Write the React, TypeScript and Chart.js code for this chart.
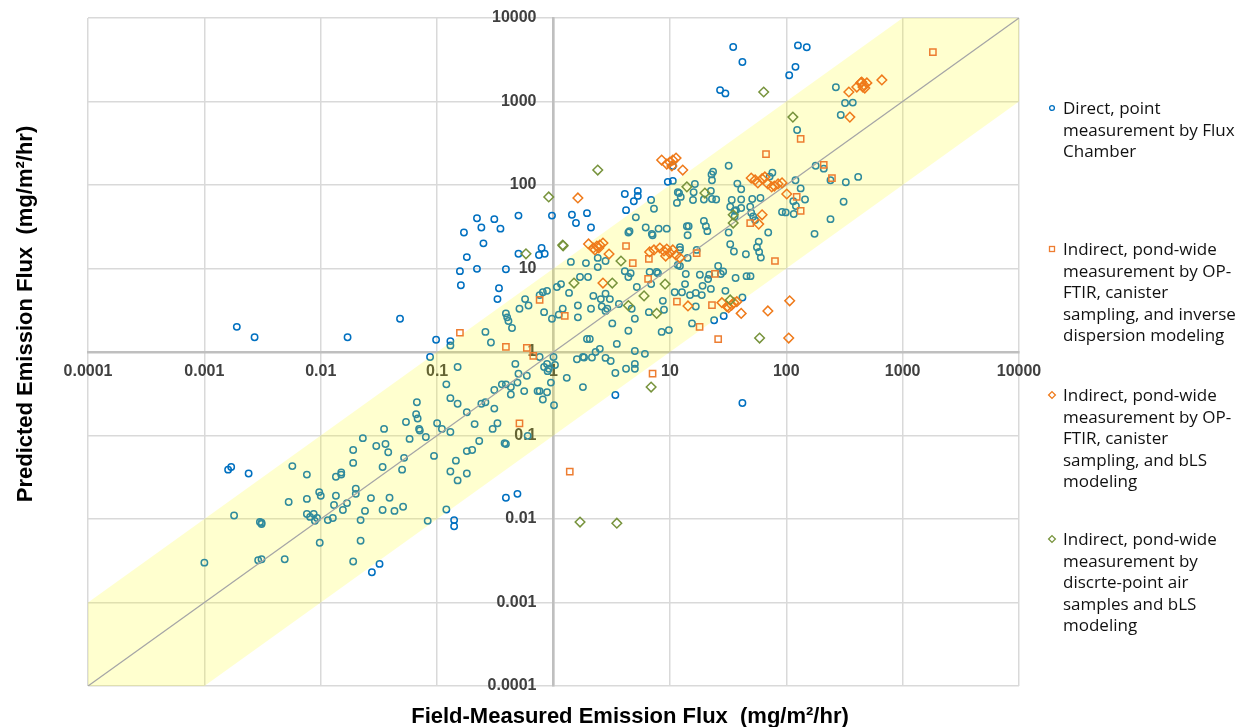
import React, { useEffect, useRef } from 'react';
import { Chart, registerables } from 'chart.js';

Chart.register(...registerables);

// ---------- axis ticks / titles ----------
const tickValues = [0.0001, 0.001, 0.01, 0.1, 1, 10, 100, 1000, 10000];
const tickLabels = ['0.0001', '0.001', '0.01', '0.1', '1', '10', '100', '1000', '10000'];
const xTitle = 'Field-Measured Emission Flux  (mg/m\u00B2/hr)';
const yTitle = 'Predicted Emission Flux  (mg/m\u00B2/hr)';

// ---------- legend text ----------
const seriesNames: string[][] = [
  ['Direct, point', 'measurement by Flux', 'Chamber'],
  ['Indirect, pond-wide', 'measurement by OP-', 'FTIR, canister', 'sampling, and inverse', 'dispersion modeling'],
  ['Indirect, pond-wide', 'measurement by OP-', 'FTIR, canister', 'sampling, and bLS', 'modeling'],
  ['Indirect, pond-wide', 'measurement by', 'discrte-point air', 'samples and bLS', 'modeling'],
];

// ---------- series: [field-measured, predicted] ----------
const directFluxChamber: [number, number][] = [
  [0.0019, 2.0], [0.0027, 1.5], [0.017, 1.5], [0.048, 2.5], [0.087, 0.87], [0.15, 0.66], [0.47, 0.72], [0.50, 0.55],
  [0.59, 0.52], [0.36, 0.41], [0.39, 0.41], [0.43, 0.38], [0.49, 0.43], [0.43, 0.31], [0.56, 0.34], [0.31, 0.35],
  [0.73, 0.34], [0.12, 0.41], [0.13, 0.28], [0.15, 0.24], [0.067, 0.25], [0.066, 0.18], [0.068, 0.16], [0.054, 0.145],
  [0.070, 0.12], [0.071, 0.115], [0.10, 0.14], [0.11, 0.12], [0.13, 0.11], [0.18, 0.19], [0.24, 0.24], [0.26, 0.25],
  [0.31, 0.21], [0.33, 0.14], [0.21, 0.137], [0.30, 0.12], [0.080, 0.096], [0.058, 0.091], [0.035, 0.12], [0.023, 0.093],
  [0.030, 0.075], [0.036, 0.079], [0.038, 0.063], [0.019, 0.067], [0.019, 0.047], [0.052, 0.054], [0.034, 0.042], [0.050, 0.039],
  [0.094, 0.057], [0.145, 0.050], [0.18, 0.065], [0.20, 0.067], [0.23, 0.086], [0.38, 0.081], [0.39, 0.079], [0.60, 0.099],
  [0.13, 0.037], [0.15, 0.029], [0.18, 0.035], [0.39, 0.018], [0.49, 0.020], [0.12, 0.013], [0.083, 0.0095], [0.14, 0.0097],
  [0.14, 0.0082], [0.0057, 0.043], [0.0076, 0.034], [0.0135, 0.032], [0.015, 0.036], [0.015, 0.034], [0.020, 0.023], [0.020, 0.020],
  [0.0135, 0.019], [0.0097, 0.021], [0.010, 0.019], [0.0053, 0.016], [0.0076, 0.0174], [0.013, 0.0147], [0.0168, 0.0155], [0.0155, 0.0128],
  [0.0076, 0.0115], [0.0087, 0.0115], [0.0081, 0.0106], [0.0093, 0.0103], [0.0089, 0.0095], [0.0115, 0.0097], [0.0127, 0.0103], [0.024, 0.0125],
  [0.022, 0.0097], [0.027, 0.0178], [0.039, 0.018], [0.034, 0.0128], [0.043, 0.0125], [0.051, 0.014], [0.0098, 0.0052], [0.022, 0.0055],
  [0.0049, 0.0033], [0.0029, 0.0032], [0.0031, 0.0033], [0.0030, 0.0092], [0.0031, 0.0090], [0.0031, 0.0087], [0.0018, 0.011], [0.0016, 0.039],
  [0.0017, 0.042], [0.0024, 0.035], [0.0010, 0.0030], [0.019, 0.0031], [0.0275, 0.0023], [0.032, 0.0029], [0.098, 1.4], [0.13, 1.35],
  [0.13, 1.2], [0.29, 1.3], [10.6, 169], [9.6, 109], [10.6, 112], [4.1, 78], [4.9, 64], [5.3, 85],
  [5.3, 74], [6.9, 66], [7.3, 52], [4.2, 50], [5.1, 41], [11.7, 82], [12, 80], [12.4, 72],
  [11.5, 61], [16.4, 103], [16, 82], [15.8, 66], [1.44, 44], [1.56, 35], [1.94, 46], [2.1, 31],
  [0.97, 43], [0.50, 43], [0.31, 39], [0.22, 40], [0.24, 31], [0.35, 30], [0.17, 27], [0.25, 20],
  [0.18, 13.7], [0.22, 9.9], [0.39, 9.8], [0.157, 9.3], [0.16, 6.3], [0.34, 5.8], [0.33, 4.3], [0.50, 15],
  [0.75, 14.5], [0.79, 17.6], [0.84, 15], [4.4, 27], [4.5, 28], [7.0, 26], [7.1, 25], [6.2, 31],
  [8.0, 30], [9.4, 30], [14, 32], [14.5, 32], [14.2, 25], [12.2, 18], [12.2, 16.7], [14.2, 13.4],
  [17, 16.7], [11.7, 11], [12.2, 10.7], [4.1, 9.3], [4.4, 7.9], [4.6, 8.8], [6.7, 9.1], [7.7, 9.1],
  [7.9, 8.8], [6.9, 6.5], [5.2, 6.0], [4.7, 3.3], [6.6, 3.0], [8.7, 4.1], [8.9, 3.2], [11, 5.2],
  [12.7, 5.2], [2.4, 10.4], [1.9, 11.6], [1.41, 12], [2.8, 12.3], [2.4, 13.4], [1.69, 7.9], [1.98, 7.9],
  [1.07, 6.0], [1.16, 6.5], [1.36, 5.1], [0.76, 4.8], [0.81, 5.2], [0.88, 5.4], [0.57, 4.3], [0.61, 3.6],
  [1.62, 3.6], [2.2, 4.7], [2.8, 5.0], [2.55, 4.3], [3.05, 4.3], [3.65, 3.76], [2.6, 3.5], [2.8, 3.1],
  [2.9, 3.3], [2.1, 3.3], [3.2, 2.2], [4.4, 1.8], [1.62, 2.6], [1.2, 3.3], [1.11, 2.8], [0.97, 2.5],
  [0.83, 3.0], [0.51, 3.3], [0.39, 2.9], [0.40, 2.6], [0.41, 2.35], [0.26, 1.74], [0.44, 1.94], [8.5, 1.74],
  [9.8, 1.83], [1.94, 1.43], [2.05, 1.43], [5.0, 2.5], [13.5, 6.5], [14.9, 4.8], [16.7, 5.1], [16.7, 3.5],
  [15.5, 2.2], [13.7, 8.6], [0.76, 0.87], [0.83, 0.66], [0.88, 0.72], [0.91, 0.63], [0.89, 0.59], [1.03, 0.70],
  [1.0, 0.87], [0.95, 0.43], [1.01, 0.23], [0.76, 0.34], [0.88, 0.33], [0.81, 0.27], [1.3, 0.49], [1.79, 0.38],
  [1.59, 0.82], [1.79, 0.87], [1.83, 0.86], [2.14, 0.86], [2.3, 1.0], [2.5, 1.09], [2.8, 0.85], [3.1, 0.78],
  [3.4, 0.56], [4.2, 0.63], [5.0, 0.72], [5.0, 0.63], [5.0, 1.03], [6.1, 0.95], [3.5, 1.25], [3.4, 0.305],
  [42, 0.245], [35, 4500], [42, 2970], [27, 1370], [30, 1250], [106, 2060], [120, 2600], [126, 4700],
  [150, 4460], [267, 1480], [320, 960], [373, 970], [294, 690], [124, 456], [32, 170], [23.5, 144],
  [22.8, 134], [23, 114], [38, 104], [41, 89], [76, 140], [72, 126], [120, 114], [133, 91],
  [179, 170], [210, 157], [240, 114], [415, 125], [325, 108], [311, 63], [240, 39], [175, 26],
  [145, 67], [115, 64], [121, 56], [116, 45], [92, 47.5], [99, 47], [22.5, 85], [19.6, 67],
  [23, 68], [25, 67], [34, 66], [41, 67], [51, 68], [60, 70], [33, 55], [36, 49],
  [37, 50], [41, 53], [49, 55], [50, 46.6], [52, 42], [54, 38], [36, 42], [19.6, 37],
  [20.4, 32], [21, 28], [32, 27], [70, 27], [33, 19.5], [35.5, 16], [45, 14.8], [58, 21],
  [56, 18], [58.5, 15.8], [60.5, 13.5], [26, 10.7], [28.7, 9.2], [27.4, 8.6], [21.8, 8.4], [21.3, 7.5],
  [18.1, 8.4], [36.7, 7.7], [45.6, 8.1], [49.3, 8.1], [19.1, 6.2], [18.8, 4.8], [22.5, 5.7], [30, 5.4],
  [42, 4.5], [24, 2.4], [29, 2.7],
];

const opftirInverseDispersion: [number, number][] = [
  [0.157, 1.7], [0.39, 1.15], [0.59, 1.12], [0.67, 0.9], [0.51, 0.14], [1.38, 0.037], [7.1, 0.55], [0.76, 4.2],
  [1.25, 2.7], [4.2, 18.6], [4.8, 11.6], [6.6, 13], [6.5, 7.5], [17, 15.3], [11.5, 4.0], [210, 174],
  [247, 121], [123, 72], [133, 49], [133, 356], [67, 235], [49, 35], [80, 12.3], [24.4, 8.6],
  [23, 3.65], [18, 2.0], [26, 1.43], [1820, 3900],
];

const opftirBLS: [number, number][] = [
  [8.5, 199], [9.4, 178], [10, 188], [10.4, 169], [10.6, 199], [11.3, 210], [12.9, 151], [1.62, 70],
  [2.0, 19.7], [2.2, 17.6], [2.27, 16.7], [2.36, 18.6], [2.5, 19.1], [2.66, 20.2], [2.45, 17.6], [3.0, 14.9],
  [6.7, 15.8], [7.3, 16.7], [8.2, 17.6], [8.9, 16.2], [9.4, 17.1], [10, 15.3], [10.6, 16.7], [11.3, 14.5],
  [9.2, 14.1], [12.2, 13.4], [2.66, 6.7], [14.3, 3.56], [50, 121], [54, 115], [57, 106], [62, 119],
  [65.5, 125], [69.5, 103], [75, 95], [79, 97], [85, 103], [92, 106], [101, 78], [58, 34],
  [62, 44], [28, 3.9], [31, 3.5], [32, 3.4], [34, 3.65], [35.5, 3.9], [37.6, 4.0], [41, 2.9],
  [69.5, 3.1], [107, 4.1], [105, 1.47], [345, 1300], [352, 650], [404, 1490], [437, 1670], [445, 1710],
  [464, 1580], [493, 1670], [473, 1450], [456, 1490], [663, 1810],
];

const discretePointBLS: [number, number][] = [
  [2.4, 151], [0.91, 72], [1.2, 19.1], [1.21, 18.7], [0.58, 15], [3.8, 12.3], [3.2, 6.7], [1.5, 6.7],
  [6.0, 4.7], [4.4, 3.6], [7.7, 2.9], [9.1, 6.5], [14, 95], [20, 80], [35, 44], [35, 35],
  [33, 4.2], [59, 1.47], [6.9, 0.38], [1.69, 0.0092], [3.5, 0.0089], [64, 1300], [114, 650],
];

// ---------- factor-of-10 band and 1:1 line ----------
const bandUpper: [number, number][] = [[0.0001, 0.001], [1000, 10000], [10000, 10000]];
const bandLower: [number, number][] = [[0.0001, 0.0001], [0.001, 0.0001], [10000, 1000]];
const identityLine: [number, number][] = [[0.0001, 0.0001], [10000, 10000]];

const COLORS = ['#0070C0', '#ED7D31', '#EF7A1A', '#77933C'];
const MARKERS = ['circle', 'square', 'diamond', 'diamond'];
const LEGEND_CENTERS = [108, 249, 395, 539];

const toXY = (arr: [number, number][]) => arr.map(([x, y]) => ({ x, y }));

const axisTextPlugin = {
  id: 'axisText',
  beforeDatasetsDraw(chart: any) {
    const { ctx } = chart;
    const xs = chart.scales.x;
    const ys = chart.scales.y;
    const xAxisY = ys.getPixelForValue(1);
    const yAxisX = xs.getPixelForValue(1);
    ctx.save();
    ctx.font = 'bold 16px "Liberation Sans", Arial, sans-serif';
    ctx.fillStyle = '#404040';
    ctx.textBaseline = 'middle';
    ctx.textAlign = 'center';
    tickValues.forEach((v, i) => ctx.fillText(tickLabels[i], xs.getPixelForValue(v), xAxisY + 20));
    ctx.textAlign = 'right';
    tickValues.forEach((v, i) => ctx.fillText(tickLabels[i], yAxisX - 17, ys.getPixelForValue(v)));
    ctx.restore();
  },
  afterDraw(chart: any) {
    const { ctx } = chart;
    ctx.save();
    ctx.font = 'bold 22px "Liberation Sans", Arial, sans-serif';
    ctx.fillStyle = '#000000';
    ctx.textAlign = 'center';
    ctx.textBaseline = 'middle';
    ctx.fillText(xTitle, 630, 717);
    ctx.translate(26, 314);
    ctx.rotate(-Math.PI / 2);
    ctx.fillText(yTitle, 0, 0);
    ctx.restore();
  },
};

function LegendMarker({ kind, color, cy }: { kind: string; color: string; cy: number }) {
  return (
    <svg width="12" height="12" viewBox="0 0 12 12" style={{ position: 'absolute', left: 1046, top: cy - 6 }}>
      {kind === 'circle' && <circle cx="6" cy="6" r="2.4" fill="none" stroke={color} strokeWidth="1.3" />}
      {kind === 'square' && <rect x="3.5" y="3.5" width="5" height="5" fill="none" stroke={color} strokeWidth="1.3" />}
      {kind === 'diamond' && <polygon points="6,2.6 9.4,6 6,9.4 2.6,6" fill="none" stroke={color} strokeWidth="1.3" />}
    </svg>
  );
}

export default function App() {
  const ref = useRef<HTMLCanvasElement>(null);

  useEffect(() => {
    if (!ref.current) return;
    const pointSeries = (data: [number, number][], idx: number, style: string, radius: number, order: number) => ({
      label: seriesNames[idx].join(' '),
      data: toXY(data),
      pointStyle: style,
      pointRadius: radius,
      pointBorderWidth: 1.5,
      pointBorderColor: COLORS[idx],
      pointBackgroundColor: 'rgba(0,0,0,0)',
      borderColor: COLORS[idx],
      backgroundColor: 'rgba(0,0,0,0)',
      showLine: false,
      order,
    });

    const chart = new Chart(ref.current, {
      type: 'scatter',
      data: {
        datasets: [
          {
            label: 'band upper',
            type: 'line',
            data: toXY(bandUpper),
            borderColor: 'rgba(0,0,0,0)',
            borderWidth: 1,
            pointRadius: 0,
            fill: false,
            order: 5,
          } as any,
          {
            label: 'band lower',
            type: 'line',
            data: toXY(bandLower),
            borderColor: 'rgba(0,0,0,0)',
            borderWidth: 1,
            pointRadius: 0,
            fill: '-1',
            backgroundColor: 'rgba(255,255,0,0.19)',
            order: 5,
          } as any,
          {
            label: '1:1',
            type: 'line',
            data: toXY(identityLine),
            borderColor: '#a6a6a6',
            borderWidth: 1.3,
            pointRadius: 0,
            fill: false,
            order: 4,
          } as any,
          pointSeries(directFluxChamber, 0, 'circle', 3.2, 6) as any,
          pointSeries(opftirInverseDispersion, 1, 'rect', 4.4, 3) as any,
          pointSeries(opftirBLS, 2, 'rectRot', 4.8, 2) as any,
          pointSeries(discretePointBLS, 3, 'rectRot', 4.8, 1) as any,
        ],
      },
      options: {
        animation: false,
        responsive: false,
        devicePixelRatio: 1,
        events: [],
        layout: { padding: { left: 88, right: 224, top: 18, bottom: 41 } },
        plugins: { legend: { display: false }, tooltip: { enabled: false } },
        scales: {
          x: {
            type: 'logarithmic',
            min: 0.0001,
            max: 10000,
            position: { y: 1 } as any,
            afterBuildTicks: (s: any) => {
              s.ticks = tickValues.map((v) => ({ value: v }));
            },
            ticks: { display: false },
            grid: { color: '#d9d9d9', lineWidth: 1.5, drawTicks: false },
            border: { display: true, color: '#bfbfbf', width: 2.5 },
          },
          y: {
            type: 'logarithmic',
            min: 0.0001,
            max: 10000,
            position: { x: 1 } as any,
            afterBuildTicks: (s: any) => {
              s.ticks = tickValues.map((v) => ({ value: v }));
            },
            ticks: { display: false },
            grid: { color: '#d9d9d9', lineWidth: 1.5, drawTicks: false },
            border: { display: true, color: '#bfbfbf', width: 2.5 },
          },
        },
      } as any,
      plugins: [axisTextPlugin],
    });
    return () => chart.destroy();
  }, []);

  return (
    <div style={{ position: 'fixed', left: 0, top: 0, width: 1243, height: 727, background: '#ffffff', overflow: 'hidden' }}>
      <canvas ref={ref} width={1243} height={727} style={{ display: 'block', position: 'absolute', left: 0, top: 0 }} />
      {seriesNames.map((lines, i) => (
        <React.Fragment key={i}>
          <LegendMarker kind={MARKERS[i]} color={COLORS[i]} cy={LEGEND_CENTERS[i]} />
          <div
            style={{
              position: 'absolute',
              left: 1063,
              top: LEGEND_CENTERS[i] - 10.75,
              fontFamily: '"Open Sans", sans-serif',
              fontSize: 17,
              lineHeight: '21.5px',
              color: '#111111',
              whiteSpace: 'nowrap',
            }}
          >
            {lines.map((t, j) => (
              <div key={j}>{t}</div>
            ))}
          </div>
        </React.Fragment>
      ))}
    </div>
  );
}
